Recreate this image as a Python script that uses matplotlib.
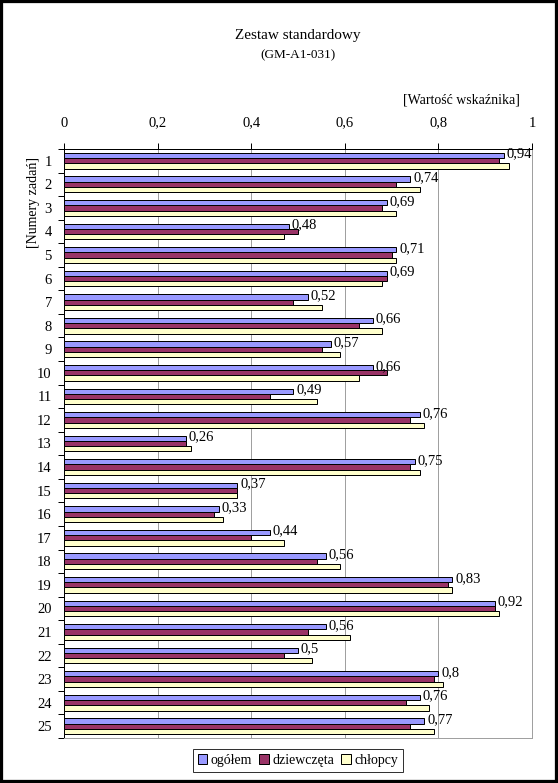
import matplotlib
matplotlib.use("Agg")
import matplotlib.pyplot as plt
from matplotlib.patches import Rectangle
from matplotlib.font_manager import FontProperties
import numpy as np

plt.rcParams['font.family'] = ['Liberation Serif', 'DejaVu Serif']

categories = [str(i) for i in range(1, 26)]
ogolem = [0.94, 0.74, 0.69, 0.48, 0.71, 0.69, 0.52, 0.66, 0.57, 0.66, 0.49, 0.76, 0.26,
          0.75, 0.37, 0.33, 0.44, 0.56, 0.83, 0.92, 0.56, 0.50, 0.80, 0.76, 0.77]
dziewczeta = [0.93, 0.71, 0.68, 0.50, 0.70, 0.69, 0.49, 0.63, 0.55, 0.69, 0.44, 0.74, 0.26,
              0.74, 0.37, 0.32, 0.40, 0.54, 0.82, 0.92, 0.52, 0.47, 0.79, 0.73, 0.74]
chlopcy = [0.95, 0.76, 0.71, 0.47, 0.71, 0.68, 0.55, 0.68, 0.59, 0.63, 0.54, 0.77, 0.27,
           0.76, 0.37, 0.34, 0.47, 0.59, 0.83, 0.93, 0.61, 0.53, 0.81, 0.78, 0.79]
series_names = ['ogółem', 'dziewczęta', 'chłopcy']
colors = ['#9999FF', '#993366', '#FFFFCC']
xticks = [0, 0.2, 0.4, 0.6, 0.8, 1]
xtick_labels = ['0', '0,2', '0,4', '0,6', '0,8', '1']

W, H = 558, 783
fig = plt.figure(figsize=(W / 100, H / 100), dpi=100)
ax = fig.add_axes([64.3 / W, 1 - 738 / H, (532 - 64.3) / W, (738 - 149) / H])

n = len(categories)
y = np.arange(n)
bw = 0.222
px = 0.72  # 1 px in points
for k, (vals, c, name) in enumerate(zip([ogolem, dziewczeta, chlopcy], colors, series_names)):
    ax.barh(y + (k - 1) * bw, vals, height=bw, color=c, edgecolor='black',
            linewidth=px, label=name, zorder=3)

for i, v in enumerate(ogolem):
    ax.annotate(('%g' % v).replace('.', ','), xy=(v, y[i] - bw), xytext=(2, 1),
                textcoords='offset points', ha='left', va='center', fontsize=10.5)

ax.set_xlim(0, 1)
ax.set_ylim(n - 0.5, -0.5)
ax.xaxis.tick_top()
ax.set_xticks(xticks)
ax.set_xticklabels(xtick_labels, fontsize=10.5)
ax.tick_params(axis='x', direction='out', length=4, width=px, pad=10, color='black')
ax.set_yticks(y)
ax.set_yticklabels(categories, fontsize=10.5)
ax.set_yticks(np.arange(n + 1) - 0.5, minor=True)
ax.tick_params(axis='y', which='major', length=0, pad=9)
ax.tick_params(axis='y', which='minor', direction='out', length=4, width=px)
ax.grid(axis='x', color='#A0A0A0', linewidth=px, zorder=0)

ax.spines['top'].set_color('black')
ax.spines['left'].set_color('black')
ax.spines['top'].set_linewidth(px)
ax.spines['left'].set_linewidth(px)
ax.spines['right'].set_color('#A0A0A0')
ax.spines['bottom'].set_color('#A0A0A0')
ax.spines['right'].set_linewidth(px)
ax.spines['bottom'].set_linewidth(px)

fig.text(298 / W, 1 - 36 / H, 'Zestaw standardowy', ha='center', va='center', fontsize=11)
fig.text(298 / W, 1 - 55 / H, '(GM-A1-031)', ha='center', va='center', fontsize=9.5)
fig.text(461 / W, 1 - 100 / H, '[Wartość wskaźnika]', ha='center', va='center', fontsize=10)
fig.text(33 / W, 1 - 202 / H, '[Numery zadań]', ha='center', va='center', rotation=90, fontsize=10)

leg = fig.legend(loc='center', bbox_to_anchor=(298 / W, 1 - 760.5 / H), ncol=3,
                 prop=FontProperties(family=['Liberation Serif', 'DejaVu Serif'], size=10),
                 frameon=True, fancybox=False, edgecolor='black',
                 handlelength=0.7, handleheight=0.7, handletextpad=0.25, columnspacing=0.5,
                 borderpad=0.35, borderaxespad=0)
leg.get_frame().set_linewidth(px)

fig.patches.append(Rectangle((0, 0), 1, 1, transform=fig.transFigure, fill=False,
                             edgecolor='black', linewidth=4.5, zorder=10))

fig.savefig('out.png', dpi=100)
